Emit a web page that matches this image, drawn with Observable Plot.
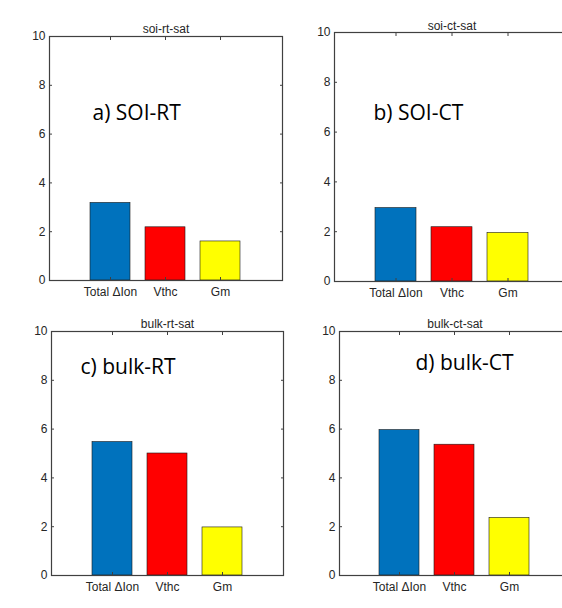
<!DOCTYPE html>
<html>
<head>
<meta charset="utf-8">
<script src="https://cdn.jsdelivr.net/npm/d3@7"></script>
<script src="https://cdn.jsdelivr.net/npm/@observablehq/plot@0.6"></script>
<style>
  html, body { margin: 0; padding: 0; background: #fff; overflow: hidden; }
  #wrap { position: relative; width: 562px; height: 608px; overflow: hidden; background: #fff; }
  .panel { position: absolute; }
  .panel svg { max-width: none !important; }
</style>
</head>
<body>
<div id="wrap"></div>
<script>
// ---- data ----
const categories = ["Total \u0394Ion", "Vthc", "Gm"];
const barColors = ["#0072BD", "#FF0000", "#FFFF00"];
const panelTitles = ["soi-rt-sat", "soi-ct-sat", "bulk-rt-sat", "bulk-ct-sat"];
const panelLabels = ["a) SOI-RT", "b) SOI-CT", "c) bulk-RT", "d) bulk-CT"];
const soiRT = [3.18, 2.18, 1.6];
const soiCT = [2.95, 2.18, 1.95];
const bulkRT = [5.47, 5.0, 1.97];
const bulkCT = [5.96, 5.36, 2.36];
const yTicks = [0, 2, 4, 6, 8, 10];

const seriesList = [soiRT, soiCT, bulkRT, bulkCT];

// ---- layout (pixels) ----
const layout = [
  {left: 0,   top: 0,   width: 290, height: 300, mL: 49, mR: 8,  mT: 36, mB: 20, tdy: -4, ldx: 43, ldy: 77},
  {left: 290, top: 0,   width: 290, height: 300, mL: 44, mR: 11, mT: 32, mB: 19, tdy: -3, ldx: 39, ldy: 81},
  {left: 0,   top: 300, width: 290, height: 308, mL: 51, mR: 7,  mT: 31, mB: 33, tdy: -4, ldx: 29, ldy: 36},
  {left: 290, top: 300, width: 290, height: 308, mL: 49, mR: 10, mT: 31, mB: 33, tdy: -4, ldx: 76, ldy: 32}
];

const wrap = document.getElementById("wrap");
const noText = () => "";

seriesList.forEach((vals, i) => {
  const L = layout[i];
  const rows = categories.map((c, j) => ({cat: c, value: vals[j]}));
  const chart = Plot.plot({
    width: L.width,
    height: L.height,
    marginLeft: L.mL,
    marginRight: L.mR,
    marginTop: L.mT,
    marginBottom: L.mB,
    style: {fontFamily: "'Liberation Sans', Arial, sans-serif", fontSize: "12px", color: "#262626", background: "transparent", overflow: "visible", maxWidth: "none"},
    x: {type: "band", domain: categories, paddingInner: 0.27, paddingOuter: 0.73, axis: null},
    y: {domain: [0, 10], axis: null},
    color: {domain: categories, range: barColors},
    marks: [
      Plot.barY(rows, {x: "cat", y: "value", fill: "cat", stroke: "#1a1a1a", strokeWidth: 0.6}),
      Plot.frame({stroke: "#404040", strokeWidth: 1.2}),
      Plot.axisX({anchor: "bottom", tickSize: 0, tickPadding: 7, label: null}),
      Plot.axisX({anchor: "bottom", tickSize: 3, dy: -3, tickFormat: noText, label: null, stroke: "#404040"}),
      Plot.axisX({anchor: "top", tickSize: 3, dy: 3, tickFormat: noText, label: null, stroke: "#404040"}),
      Plot.axisY({anchor: "left", ticks: yTicks, tickSize: 0, tickPadding: 4, label: null}),
      Plot.axisY({anchor: "left", ticks: yTicks, tickSize: 3, dx: 3, tickFormat: noText, label: null, stroke: "#404040"}),
      Plot.axisY({anchor: "right", ticks: yTicks, tickSize: 3, dx: -3, tickFormat: noText, label: null, stroke: "#404040"}),
      Plot.text([panelTitles[i]], {text: d => d, frameAnchor: "top", dy: L.tdy, lineAnchor: "bottom", fontSize: 12, fill: "#262626"}),
      Plot.text([panelLabels[i]], {text: d => d, frameAnchor: "top-left", dx: L.ldx, dy: L.ldy, textAnchor: "start", lineAnchor: "middle", fontSize: 21, fontFamily: "'Open Sans', sans-serif", fill: "#000"})
    ]
  });
  const div = document.createElement("div");
  div.className = "panel";
  div.style.left = L.left + "px";
  div.style.top = L.top + "px";
  div.style.width = L.width + "px";
  div.style.height = L.height + "px";
  div.appendChild(chart);
  wrap.appendChild(div);
});
</script>
</body>
</html>
